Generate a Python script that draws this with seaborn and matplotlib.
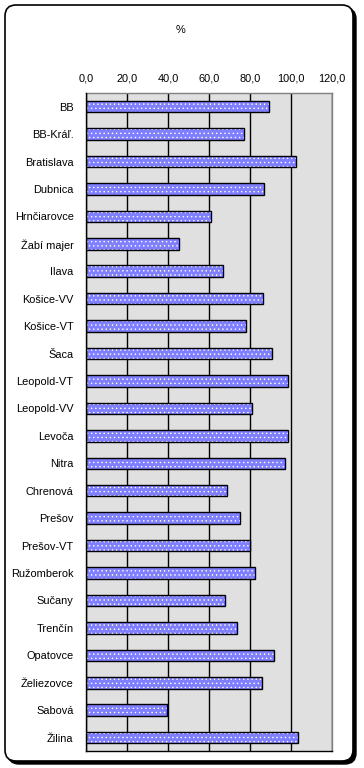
import numpy as np
import pandas as pd
import seaborn as sns
import matplotlib.pyplot as plt
from matplotlib.patches import Rectangle, FancyBboxPatch
from matplotlib.transforms import IdentityTransform

# Data
sites = ['BB', "BB-Kráľ.", 'Bratislava', 'Dubnica', 'Hrnčiarovce', 'Žabí majer',
         'Ilava', 'Košice-VV', 'Košice-VT', 'Šaca', 'Leopold-VT', 'Leopold-VV',
         'Levoča', 'Nitra', 'Chrenová', 'Prešov', 'Prešov-VT', 'Ružomberok',
         'Sučany', 'Trenčín', 'Opatovce', 'Želiezovce', 'Sabová', 'Žilina']
percent = [89.3, 76.9, 102.5, 86.9, 61.1, 45.1,
           66.5, 86.4, 77.7, 90.8, 98.6, 81.1,
           98.6, 97.1, 68.9, 75.2, 80.0, 82.1,
           67.9, 73.8, 91.8, 85.9, 39.6, 103.5]
xticks = [0, 20, 40, 60, 80, 100, 120]
title = '%'

df = pd.DataFrame({'site': sites, 'percent': percent})

sns.set_style('white')
plt.rcParams['font.family'] = ['Liberation Sans', 'DejaVu Sans']
plt.rcParams['hatch.linewidth'] = 0.5
plt.rcParams['text.color'] = 'black'
plt.rcParams['xtick.color'] = 'black'
plt.rcParams['ytick.color'] = 'black'

fig = plt.figure(figsize=(3.64, 7.68), dpi=100)

# rounded frame with drop shadow (behind the axes)
shadow = FancyBboxPatch((8, 4), 348, 756, boxstyle='round,pad=0,rounding_size=11',
                        transform=IdentityTransform(), fc='black', ec='black', lw=1, zorder=-2)
frame = FancyBboxPatch((5, 7), 348, 756, boxstyle='round,pad=0,rounding_size=11',
                       transform=IdentityTransform(), fc='white', ec='black', lw=1.2, zorder=-1)
fig.patches.extend([shadow, frame])

ax = fig.add_axes([0.2363, 0.0217, 0.6767, 0.8573])
ax.set_facecolor('#e0e0e0')

sns.barplot(data=df, x='percent', y='site', ax=ax, color='#8080ff', saturation=1,
            width=0.42, edgecolor='white', linewidth=0, hatch='....', zorder=2)
for p in list(ax.patches):
    ax.add_patch(Rectangle(p.get_xy(), p.get_width(), p.get_height(),
                           fill=False, ec='black', lw=1, zorder=3))

ax.set_xlim(xticks[0], xticks[-1])
ax.set_xticks(xticks)
ax.set_xticklabels([f'{v:.1f}'.replace('.', ',') for v in xticks], fontsize=7.9)
ax.xaxis.tick_top()
ax.tick_params(axis='x', length=0, pad=7)
ax.grid(axis='x', color='black', lw=1)
ax.set_axisbelow(True)

ax.set_yticks(np.arange(len(sites) + 1) - 0.5, minor=True)
ax.tick_params(axis='y', which='major', length=0, pad=9, labelsize=7.9)
ax.tick_params(axis='y', which='minor', direction='inout', length=5, width=1, color='black')
ax.set_xlabel('')
ax.set_ylabel('')

for side in ['top', 'right']:
    ax.spines[side].set_color('#808080')
    ax.spines[side].set_linewidth(1)
for side in ['left', 'bottom']:
    ax.spines[side].set_color('black')
    ax.spines[side].set_linewidth(1)
    ax.spines[side].set_zorder(4)

fig.text(0.497, 1 - 30 / 768, title, ha='center', va='center', fontsize=7.9)

plt.savefig('out.png', dpi=100)
